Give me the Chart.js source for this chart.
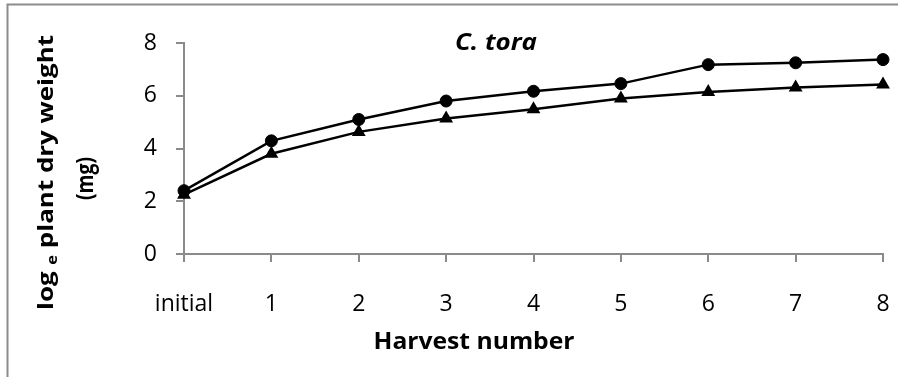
<!DOCTYPE html>
<html>
<head>
<meta charset="utf-8">
<script src="https://cdn.jsdelivr.net/npm/chart.js@4/dist/chart.umd.min.js"></script>
<style>
  html, body { margin: 0; padding: 0; background: #fff; overflow: hidden; }
  #c { display: block; }
</style>
</head>
<body>
<canvas id="c" width="898" height="377"></canvas>
<script>
// Harvest categories and the two growth series (log_e of plant dry weight, mg)
const harvests = ['initial', '1', '2', '3', '4', '5', '6', '7', '8'];
const circleSeries = [2.4, 4.29, 5.1, 5.8, 6.17, 6.46, 7.18, 7.25, 7.37];
const triangleSeries = [2.25, 3.8, 4.63, 5.14, 5.49, 5.9, 6.14, 6.31, 6.43];
const yTicks = [0, 2, 4, 6, 8];

const chartTitle = 'C. tora';
const xTitle = 'Harvest number';
const yTitleParts = ['log ', 'e', ' plant dry weight'];
const yTitleLine2 = '(mg)';

const FONT = "'Open Sans', 'Liberation Sans', sans-serif";
const AXIS_GREY = '#8a8a8a';

// Draw a string centred on (cx, baseline), stretched horizontally to a given width
function fitText(ctx, text, cx, baseline, width, font) {
  ctx.save();
  ctx.font = font;
  const w = ctx.measureText(text).width;
  ctx.translate(cx, baseline);
  ctx.scale(width / w, 1);
  ctx.textAlign = 'center';
  ctx.textBaseline = 'alphabetic';
  ctx.fillText(text, 0, 0);
  ctx.restore();
}

const decorations = {
  id: 'decorations',
  beforeDraw(chart) {
    const ctx = chart.ctx;
    ctx.save();
    ctx.fillStyle = '#fff';
    ctx.fillRect(0, 0, chart.width, chart.height);
    // frame around the chart (open at the right and bottom edges)
    ctx.strokeStyle = '#8c8c8c';
    ctx.lineWidth = 2;
    ctx.beginPath();
    ctx.moveTo(7.5, chart.height + 2);
    ctx.lineTo(7.5, 4.5);
    ctx.lineTo(chart.width + 2, 4.5);
    ctx.stroke();
    ctx.restore();
  },
  afterDraw(chart) {
    const ctx = chart.ctx;
    ctx.save();
    ctx.fillStyle = '#000';

    // chart title
    fitText(ctx, chartTitle, 496, 50, 82, `italic bold 23px ${FONT}`);

    // x axis title
    fitText(ctx, xTitle, 474, 349, 201, `bold 24px ${FONT}`);

    // y axis title, rotated, with subscript e
    const big = `bold 22px ${FONT}`;
    const small = `bold 14px ${FONT}`;
    ctx.font = big;
    const w0 = ctx.measureText(yTitleParts[0]).width;
    const w2 = ctx.measureText(yTitleParts[2]).width;
    ctx.font = small;
    const w1 = ctx.measureText(yTitleParts[1]).width;
    const total = w0 + w1 + w2;
    const target = 275;
    ctx.save();
    ctx.translate(53, 172.5);
    ctx.rotate(-Math.PI / 2);
    ctx.scale(target / total, 1);
    ctx.textAlign = 'left';
    ctx.textBaseline = 'alphabetic';
    let x = -total / 2;
    ctx.font = big;
    ctx.fillText(yTitleParts[0], x, 0);
    x += w0;
    ctx.font = small;
    ctx.fillText(yTitleParts[1], x, 4);
    x += w1;
    ctx.font = big;
    ctx.fillText(yTitleParts[2], x, 0);
    ctx.restore();

    ctx.save();
    ctx.translate(93, 178.5);
    ctx.rotate(-Math.PI / 2);
    ctx.textAlign = 'center';
    ctx.textBaseline = 'alphabetic';
    fitText(ctx, yTitleLine2, 0, 0, 43, `bold 23px ${FONT}`);
    ctx.restore();

    ctx.restore();
  }
};

new Chart(document.getElementById('c'), {
  type: 'line',
  data: {
    labels: harvests,
    datasets: [
      {
        data: triangleSeries,
        borderColor: '#000',
        backgroundColor: '#000',
        borderWidth: 2.5,
        pointStyle: 'triangle',
        pointRadius: 8,
        pointBorderWidth: 0,
        tension: 0
      },
      {
        data: circleSeries,
        borderColor: '#000',
        backgroundColor: '#000',
        borderWidth: 2.5,
        pointStyle: 'circle',
        pointRadius: 6,
        pointBorderWidth: 1,
        tension: 0
      }
    ]
  },
  options: {
    responsive: false,
    maintainAspectRatio: false,
    animation: false,
    devicePixelRatio: 1,
    layout: { padding: { top: 43, right: 15, bottom: 0, left: 0 } },
    plugins: {
      legend: { display: false },
      tooltip: { enabled: false },
      title: { display: false }
    },
    scales: {
      x: {
        type: 'category',
        offset: false,
        grid: {
          display: true,
          drawOnChartArea: false,
          drawTicks: true,
          tickLength: 8,
          color: AXIS_GREY,
          lineWidth: 2
        },
        border: { display: true, color: AXIS_GREY, width: 2 },
        ticks: {
          color: '#000',
          font: { family: FONT, size: 23 },
          padding: 29,
          maxRotation: 0,
          autoSkip: false
        },
        afterFit(scale) {
          scale.height = 123;
          scale.paddingLeft = 0;
          scale.paddingRight = 0;
        }
      },
      y: {
        min: 0,
        max: 8,
        grid: {
          display: true,
          drawOnChartArea: false,
          drawTicks: true,
          tickLength: 8,
          color: AXIS_GREY,
          lineWidth: 2
        },
        border: { display: true, color: AXIS_GREY, width: 2 },
        ticks: {
          color: '#000',
          font: { family: FONT, size: 23 },
          padding: 19
        },
        afterBuildTicks(scale) { scale.ticks = yTicks.map(v => ({ value: v })); },
        afterFit(scale) {
          scale.width = 184;
          scale.paddingTop = 0;
          scale.paddingBottom = 0;
        }
      }
    }
  },
  plugins: [decorations]
});
</script>
</body>
</html>
